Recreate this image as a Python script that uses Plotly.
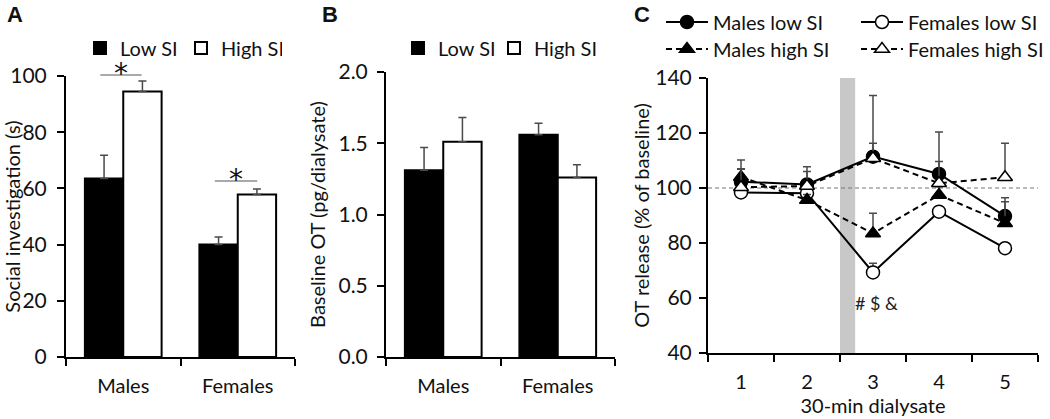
import plotly.graph_objects as go

# ---------------- data ----------------
groups = ["Males", "Females"]
si_labels = ["Low SI", "High SI"]

# Panel A: social investigation (s)
a_low = [63.5, 40.0]
a_low_err = [8.3, 2.7]
a_high = [94.5, 57.8]
a_high_err = [3.7, 2.0]

# Panel B: baseline OT (pg/dialysate)
b_low = [1.31, 1.56]
b_low_err = [0.16, 0.08]
b_high = [1.51, 1.26]
b_high_err = [0.17, 0.09]

# Panel C: OT release (% of baseline)
samples = ["1", "2", "3", "4", "5"]
males_low = [102.3, 101.3, 111.4, 105.1, 89.8]
males_low_err = [4.5, 4.7, 22.2, 15.3, 6.7]
females_low = [98.4, 98.1, 69.3, 91.4, 78.1]
females_low_err = [1.5, 1.5, 3.3, 1.5, 1.5]
males_high = [104.0, 95.6, 83.5, 97.5, 87.2]
males_high_err = [3.0, 2.0, 7.3, 3.0, 7.8]
females_high = [100.3, 100.7, 110.8, 101.7, 103.9]
females_high_err = [9.9, 7.0, 5.5, 7.9, 12.4]

FONT = "Lato"
FS = 20
W, H = 1050, 419
ERR_COL = "#4a4a4a"


def px_x(p):
    return p / W


def px_y(p):
    return 1 - p / H


fig = go.Figure()


def err(arr):
    return dict(type="data", array=arr, arrayminus=[0] * len(arr), symmetric=False,
                color=ERR_COL, thickness=1.5, width=4)


# Panel A bars
fig.add_trace(go.Bar(x=groups, y=a_low, name=si_labels[0], marker=dict(color="black", line=dict(color="black", width=2)),
                     error_y=err(a_low_err), xaxis="x", yaxis="y", legend="legend"))
fig.add_trace(go.Bar(x=groups, y=a_high, name=si_labels[1], marker=dict(color="white", line=dict(color="black", width=2)),
                     error_y=err(a_high_err), xaxis="x", yaxis="y", legend="legend"))
# Panel B bars
fig.add_trace(go.Bar(x=groups, y=b_low, name=si_labels[0], marker=dict(color="black", line=dict(color="black", width=2)),
                     error_y=err(b_low_err), xaxis="x2", yaxis="y2", legend="legend2"))
fig.add_trace(go.Bar(x=groups, y=b_high, name=si_labels[1], marker=dict(color="white", line=dict(color="black", width=2)),
                     error_y=err(b_high_err), xaxis="x2", yaxis="y2", legend="legend5"))

# Panel C lines (row 1 of legend: low SI, row 2: high SI)
series_c = [
    ("Males low SI", males_low, males_low_err, "circle", "black", "solid", "legend3"),
    ("Females low SI", females_low, females_low_err, "circle", "white", "solid", "legend3"),
    ("Males high SI", males_high, males_high_err, "triangle-up", "black", "6px,4px", "legend4"),
    ("Females high SI", females_high, females_high_err, "triangle-up", "white", "6px,4px", "legend4"),
]
for name, vals, errs, sym, fill, dash, leg in series_c:
    fig.add_trace(go.Scatter(
        x=samples, y=vals, name=name, mode="lines+markers",
        line=dict(color="black", width=2, dash=dash),
        marker=dict(symbol=sym, size=13, color=fill, line=dict(color="black", width=1.5)),
        error_y=err(errs), xaxis="x3", yaxis="y3", legend=leg))

axis_common = dict(showline=True, linecolor="black", linewidth=2, ticks="outside", ticklen=7,
                   tickwidth=2, tickcolor="black", showgrid=False, zeroline=False, automargin=False,
                   tickfont=dict(family=FONT, size=21, color="#111"))

xa = dict(axis_common, type="category", tickson="boundaries", ticklabelstandoff=10,
          tickfont=dict(family=FONT, size=FS, color="#111"))

leg_common = dict(orientation="h", xanchor="left", yanchor="middle", itemwidth=30,
                  font=dict(family=FONT, size=FS, color="#111"), bgcolor="rgba(0,0,0,0)",
                  borderwidth=0)

fig.update_layout(
    template="none",
    width=W, height=H, margin=dict(l=0, r=0, t=0, b=0, autoexpand=False),
    paper_bgcolor="white", plot_bgcolor="white",
    font=dict(family=FONT, size=FS, color="#111"),
    barmode="group", bargap=0.33, bargroupgap=0,
    xaxis=dict(xa, domain=[px_x(66), px_x(295)], anchor="y"),
    yaxis=dict(axis_common, domain=[px_y(357), px_y(76)], range=[0, 100], dtick=20, anchor="x",
               ticklabelstandoff=6,
               title=dict(text="Social investigation (s)", font=dict(family=FONT, size=FS), standoff=0)),
    xaxis2=dict(xa, domain=[px_x(386), px_x(615)], anchor="y2"),
    yaxis2=dict(axis_common, domain=[px_y(357), px_y(72)], range=[0, 2.0], dtick=0.5, tickformat=".1f",
                anchor="x2", ticklabelstandoff=5,
                title=dict(text="Baseline OT (pg/dialysate)", font=dict(family=FONT, size=FS), standoff=7)),
    xaxis3=dict(xa, domain=[px_x(708), px_x(1038)], anchor="y3", range=[-0.5, 4.5],
                title=dict(text="30-min dialysate", font=dict(family=FONT, size=FS), standoff=6)),
    yaxis3=dict(axis_common, domain=[px_y(353), px_y(78)], range=[40, 140], dtick=20, anchor="x3",
                ticklabelstandoff=3,
                title=dict(text="OT release (% of baseline)", font=dict(family=FONT, size=FS), standoff=0)),
    legend=dict(leg_common, x=px_x(80), y=px_y(48), entrywidth=56),
    legend2=dict(leg_common, x=px_x(398), y=px_y(48)),
    legend5=dict(leg_common, x=px_x(494), y=px_y(48)),
    legend3=dict(leg_common, x=px_x(661), y=px_y(22), itemwidth=42, entrywidth=138),
    legend4=dict(leg_common, x=px_x(661), y=px_y(49), itemwidth=42, entrywidth=138),
    showlegend=True,
)

# significance lines (panel A)
for x0, x1, yp in [(-0.2, 0.16, 75), (0.8, 1.17, 181)]:
    fig.add_shape(type="line", xref="x", yref="paper", x0=x0, x1=x1, y0=px_y(yp), y1=px_y(yp),
                  line=dict(color="#555", width=1))
    fig.add_annotation(x=(x0 + x1) / 2, y=px_y(yp), xref="x", yref="paper", text="*", showarrow=False,
                       font=dict(family="DejaVu Sans", size=28, color="#111"), yanchor="bottom", yshift=-17)

# panel C: stimulus band and baseline reference line
fig.add_shape(type="rect", xref="x3", yref="y3", x0=1.5, x1=1.73, y0=40, y1=140,
              fillcolor="#c8c8c8", line=dict(width=0), layer="below")
fig.add_shape(type="line", xref="x3", yref="y3", x0=-0.5, x1=4.5, y0=100, y1=100,
              line=dict(color="#777", width=1, dash="4px,3px"), layer="below")
fig.add_annotation(x=2.05, y=58.2, xref="x3", yref="y3", text="# $ &", showarrow=False,
                   font=dict(family=FONT, size=18, color="#222"))

# panel letters
for txt, xp in [("A", 15), ("B", 330), ("C", 642)]:
    fig.add_annotation(x=px_x(xp), y=px_y(14), xref="paper", yref="paper", text=f"<b>{txt}</b>",
                       showarrow=False, xanchor="center", yanchor="middle",
                       font=dict(family="Liberation Sans", size=22, color="#111"))

fig.write_html("out.html", config={"displayModeBar": False},
               post_script="document.body.style.margin='0px';")
